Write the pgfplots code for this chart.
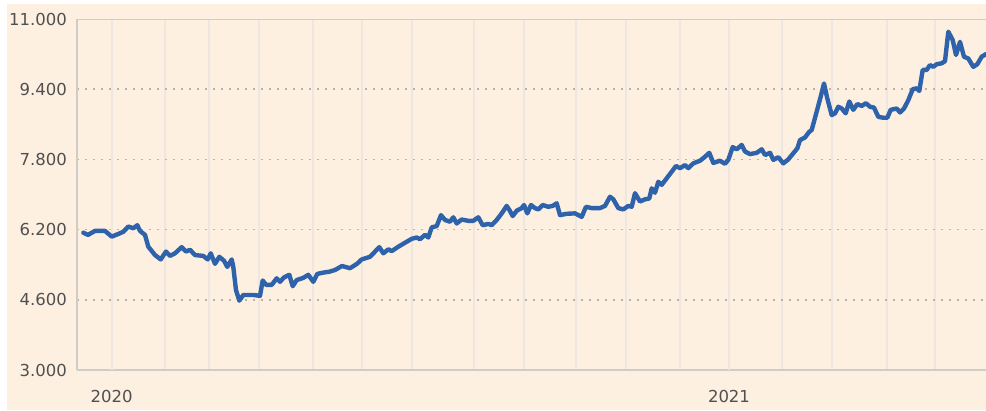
\documentclass[border=0pt]{standalone}
\usepackage{pgfplots}
\pgfplotsset{compat=1.18}
\usepackage{pgfplotstable}
\usepackage{fontspec}
\setmainfont{DejaVu Sans}
\definecolor{bgc}{RGB}{253,240,224}
\definecolor{gridc}{RGB}{238,230,224}
\definecolor{yearc}{RGB}{200,198,196}
\definecolor{axc}{RGB}{208,204,200}
\definecolor{dotc}{RGB}{185,178,170}
\definecolor{linec}{RGB}{46,98,170}
\definecolor{labc}{RGB}{80,80,80}
\pgfplotstableread{
x y
83.3 6.13
88 6.08
95 6.17
105 6.17
111.7 6.04
118.3 6.10
123.3 6.15
128.3 6.27
133.3 6.23
137.3 6.30
140 6.17
145 6.08
148.3 5.81
155 5.62
160.7 5.52
166 5.70
170 5.60
175 5.66
181.7 5.80
186 5.70
190 5.74
195 5.62
203.3 5.60
207.7 5.52
210.7 5.66
215 5.42
219.3 5.58
224 5.49
227.3 5.35
231.7 5.52
233.3 5.35
236 4.82
239.3 4.58
243.3 4.71
253.3 4.71
260 4.69
262.7 5.04
266 4.94
271.7 4.94
276.7 5.09
280 5.01
284 5.11
289.3 5.17
292.7 4.91
296.7 5.05
303.3 5.10
308.3 5.17
313.3 5.01
317.3 5.19
323.3 5.22
329.3 5.24
335 5.28
342 5.37
350 5.32
357 5.42
361.7 5.52
370 5.58
379.3 5.80
383.3 5.66
388.3 5.75
391.7 5.71
398.3 5.81
405 5.90
411.7 5.99
416.7 6.02
420 5.98
425 6.08
428.3 6.02
431.7 6.25
436.7 6.28
441 6.53
445 6.42
450 6.38
453.3 6.48
456.7 6.34
461.7 6.43
468.3 6.40
473.3 6.40
478.3 6.48
482.7 6.30
488.3 6.33
491.7 6.30
496.7 6.42
501.7 6.57
506.7 6.74
509.3 6.65
512.7 6.51
516.7 6.63
521.7 6.69
524 6.76
527.3 6.57
531 6.76
535 6.69
538.3 6.66
542.7 6.76
548.3 6.72
552.7 6.74
556.7 6.80
560 6.53
566.7 6.56
575 6.57
581.7 6.49
586 6.72
591.7 6.69
600 6.69
605 6.74
610 6.95
613.3 6.89
618.3 6.69
623.3 6.66
628.3 6.74
631.7 6.72
635 7.03
640 6.84
645 6.89
649.3 6.91
651.7 7.14
655 7.04
658.3 7.29
661.7 7.22
666.7 7.37
671.7 7.52
676 7.65
680 7.60
685 7.67
688.3 7.60
693.3 7.71
700 7.77
705 7.86
709.3 7.95
713.3 7.72
720 7.77
725 7.70
728.3 7.79
732.7 8.08
736.7 8.03
741.7 8.13
745 7.98
750 7.92
756.7 7.95
761.7 8.03
765 7.90
770 7.95
773.3 7.79
778.3 7.85
783.3 7.71
788.3 7.80
793.3 7.94
797.3 8.05
800 8.24
805 8.30
809.3 8.43
811.7 8.47
816.7 8.89
820.7 9.23
824 9.53
827.3 9.19
831.7 8.81
835 8.85
838.3 9.00
841.7 8.96
845.7 8.85
849.3 9.12
853.3 8.93
857.3 9.06
861.7 9.02
866 9.08
870 9.00
874 8.98
878.3 8.77
883.3 8.75
887.3 8.75
890.7 8.93
896.7 8.96
900 8.87
904 8.96
908.3 9.15
912.7 9.40
916.7 9.42
919.3 9.36
922.7 9.84
926.7 9.84
930 9.95
933.3 9.91
936.7 9.97
941.7 9.99
945 10.04
948.3 10.71
952.7 10.52
956 10.18
960 10.48
964 10.14
968.3 10.10
973.3 9.91
977.3 9.97
981.7 10.14
986 10.20
}\pricedata
\begin{document}
\begin{tikzpicture}[x=1pt,y=1pt]
\path[use as bounding box] (0,0) rectangle (986,411);
\fill[bgc] (7,1) rectangle (986,407);
\begin{axis}[
  at={(77pt,41pt)}, anchor=south west,
  scale only axis, width=909pt, height=351pt,
  xmin=77, xmax=986, ymin=3, ymax=11,
  axis lines=left,
  axis line style={draw=axc, line width=2pt, -},
  major tick length=0pt,
  xtick={165,209,259,313,362,412,474,524,576,626,680,782,832,887,935},
  xticklabels={},
  extra x ticks={111.7,729},
  extra x tick labels={2020,2021},
  extra x tick style={xmajorgrids=true, major grid style={draw=yearc, line width=2pt}},
  xmajorgrids=true,
  major x grid style={draw=gridc, line width=2pt},
  ytick={4.6,6.2,7.8,9.4},
  yticklabels={4.600,6.200,7.800,9.400},
  extra y ticks={3,11},
  extra y tick labels={3.000,11.000},
  extra y tick style={ymajorgrids=false},
  ymajorgrids=true,
  major y grid style={draw=dotc, line width=1.6pt, dash pattern=on 1.6pt off 6.4pt},
  yticklabel style={font=\fontsize{16.5}{16.5}\selectfont, text=labc, inner sep=0pt, anchor=east, xshift=-10pt},
  xticklabel style={font=\fontsize{16.5}{16.5}\selectfont, text=labc, inner sep=0pt, anchor=north, yshift=-20pt},
  clip=true,
]
\draw[draw=axc, line width=2pt] (rel axis cs:0,1) -- (rel axis cs:1,1);
\addplot[linec, line width=4.4pt, line join=round, line cap=round, no marks] table[x=x,y=y] {\pricedata};
\end{axis}
\end{tikzpicture}
\end{document}
